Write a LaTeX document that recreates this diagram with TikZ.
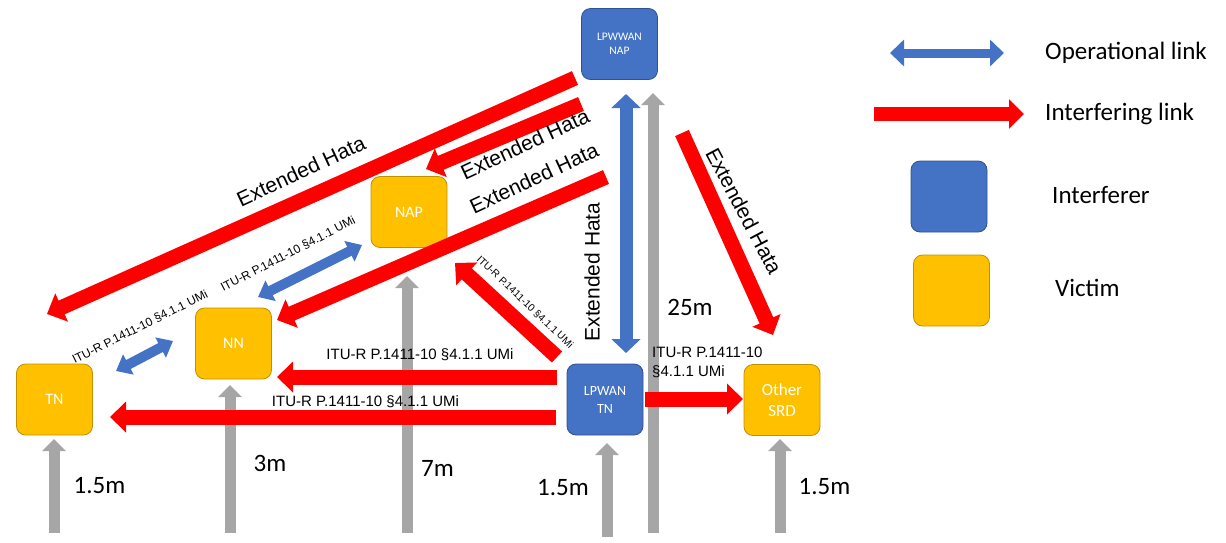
\documentclass[tikz,border=0pt]{standalone}
\usepackage{fontspec}
\setmainfont{Carlito}
\newfontfamily\arialf{Liberation Sans}
\usetikzlibrary{arrows.meta}
\definecolor{opblue}{HTML}{4472C4}
\definecolor{opborder}{HTML}{2F528F}
\definecolor{vicyellow}{HTML}{FFC000}
\definecolor{vicborder}{HTML}{BF9000}
\definecolor{intred}{HTML}{FF0000}
\definecolor{hgray}{HTML}{A6A6A6}
\begin{document}
\begin{tikzpicture}[x=1pt,y=-1pt,
  devbox/.style={rounded corners=9pt, minimum width=76pt, minimum height=71pt, inner sep=0pt, text=white, align=center, line width=0.8pt},
  blubox/.style={devbox, fill=opblue, draw=opborder},
  yelbox/.style={devbox, fill=vicyellow, draw=vicborder},
  redarr/.style={draw=intred, line width=15pt, -{Triangle[width=30pt,length=16pt]}},
  grayarr/.style={draw=hgray, line width=11pt, -{Triangle[width=23pt,length=12pt]}},
  bluarr/.style={draw=opblue, line width=#1, {Triangle[width=2.2*#1,length=14pt]}-{Triangle[width=2.2*#1,length=14pt]}},
  hata/.style={font=\arialf\fontsize{21}{25}\selectfont, inner sep=0pt},
  itu/.style={font=\arialf\fontsize{15}{19}\selectfont, inner sep=0pt},
  itus/.style={font=\arialf\fontsize{12}{14}\selectfont, inner sep=0pt},
  hgt/.style={font=\fontsize{25}{30}\selectfont, inner sep=0pt},
  leg/.style={font=\fontsize{25}{30}\selectfont, inner sep=0pt, anchor=west}
]
\useasboundingbox (0,0) rectangle (1226,542);

% device boxes
\node[blubox, font=\fontsize{11.5}{14}\selectfont] (wnap) at (619.5,44) {LPWWAN\\NAP};
\node[yelbox, font=\fontsize{16}{19}\selectfont] (nap) at (409,212) {NAP};
\node[yelbox, font=\fontsize{16}{19}\selectfont] (nn) at (233.5,343.5) {NN};
\node[yelbox, font=\fontsize{16}{19}\selectfont] (tn) at (54.5,399.5) {TN};
\node[blubox, font=\fontsize{14}{18}\selectfont] (wtn) at (605,399.5) {LPWAN\\TN};
\node[yelbox, font=\fontsize{17}{21}\selectfont] (srd) at (782,400) {Other\\SRD};

% height arrows
\coordinate (g1a) at (54,533);  \coordinate (g1b) at (54,439);
\coordinate (g2a) at (230,533); \coordinate (g2b) at (230,385);
\coordinate (g3a) at (407,533); \coordinate (g3b) at (407,276);
\coordinate (g4a) at (607,537); \coordinate (g4b) at (607,443);
\coordinate (g5a) at (653,533); \coordinate (g5b) at (653,93);
\coordinate (g6a) at (780,533); \coordinate (g6b) at (780,439);
\draw[grayarr] (g1a) -- (g1b);
\draw[grayarr] (g2a) -- (g2b);
\draw[grayarr] (g3a) -- (g3b);
\draw[grayarr] (g4a) -- (g4b);
\draw[grayarr] (g5a) -- (g5b);
\draw[grayarr] (g6a) -- (g6b);

% operational links
\coordinate (b1a) at (626,94);  \coordinate (b1b) at (626,353);
\coordinate (b2a) at (258,297); \coordinate (b2b) at (362,245);
\coordinate (b3a) at (116,371); \coordinate (b3b) at (173,341);
\draw[bluarr=13pt] (b1a) -- (b1b);
\draw[bluarr=10pt] (b2a) -- (b2b);
\draw[bluarr=10pt] (b3a) -- (b3b);

% interfering links
\coordinate (r1a) at (575,78);  \coordinate (r1b) at (47,314);
\coordinate (r2a) at (581,104); \coordinate (r2b) at (426,169);
\coordinate (r3a) at (606,177); \coordinate (r3b) at (277,320);
\coordinate (r4a) at (557,357); \coordinate (r4b) at (455,263);
\coordinate (r5a) at (557,377); \coordinate (r5b) at (277,377);
\coordinate (r6a) at (556,417); \coordinate (r6b) at (110,417);
\coordinate (r7a) at (645,399); \coordinate (r7b) at (743,399);
\coordinate (r8a) at (682,133); \coordinate (r8b) at (773,335);
\draw[redarr] (r1a) -- (r1b);
\draw[redarr] (r2a) -- (r2b);
\draw[redarr] (r3a) -- (r3b);
\draw[redarr] (r4a) -- (r4b);
\draw[redarr] (r5a) -- (r5b);
\draw[redarr] (r6a) -- (r6b);
\draw[redarr] (r7a) -- (r7b);
\draw[redarr] (r8a) -- (r8b);

% model labels
\node[hata, rotate=25] (t1) at (301,171) {Extended Hata};
\node[hata, rotate=25] (t2) at (525,144) {Extended Hata};
\node[hata, rotate=25] (t3) at (534,178) {Extended Hata};
\node[hata, rotate=90] (t4) at (592,272) {Extended Hata};
\node[hata, rotate=-62] (t5) at (744,211) {Extended Hata};
\node[itu] (l1) at (420,355) {ITU-R P.1411-10 §4.1.1 UMi};
\node[itu] (l2) at (365.5,402) {ITU-R P.1411-10 §4.1.1 UMi};
\node[itu, align=left, anchor=west] (l3) at (652,362.5) {ITU-R P.1411-10\\§4.1.1 UMi};
\node[itus, rotate=26.5] (l4) at (140,327) {ITU-R P.1411-10 §4.1.1 UMi};
\node[itus, rotate=27.4] (l5) at (288,254) {ITU-R P.1411-10 §4.1.1 UMi};
\node[itus, font=\arialf\fontsize{10.3}{12}\selectfont, rotate=-43.5] (l6) at (525,302) {ITU-R P.1411-10 §4.1.1 UMi};

% heights
\node[hgt] (h1) at (99.5,486) {1.5m};
\node[hgt] (h2) at (270,463) {3m};
\node[hgt] (h3) at (437.5,468) {7m};
\node[hgt] (h4) at (563,488) {1.5m};
\node[hgt] (h5) at (690,307) {25m};
\node[hgt] (h6) at (824.5,487) {1.5m};

% legend
\coordinate (lb1) at (890,53);  \coordinate (lb2) at (1004,53);
\draw[draw=opblue, line width=9pt, {Triangle[width=26pt,length=14pt]}-{Triangle[width=26pt,length=14pt]}] (lb1) -- (lb2);
\coordinate (lr1) at (874,114); \coordinate (lr2) at (1024,114);
\draw[draw=intred, line width=14pt, -{Triangle[width=29pt,length=15pt]}] (lr1) -- (lr2);
\node[blubox] (legi) at (949,196.5) {};
\node[yelbox] (legv) at (951.5,290.5) {};
\node[leg] (tx1) at (1045,53) {Operational link};
\node[leg] (tx2) at (1045,114) {Interfering link};
\node[leg] (tx3) at (1052,195) {Interferer};
\node[leg] (tx4) at (1055,288) {Victim};
\end{tikzpicture}
\end{document}
